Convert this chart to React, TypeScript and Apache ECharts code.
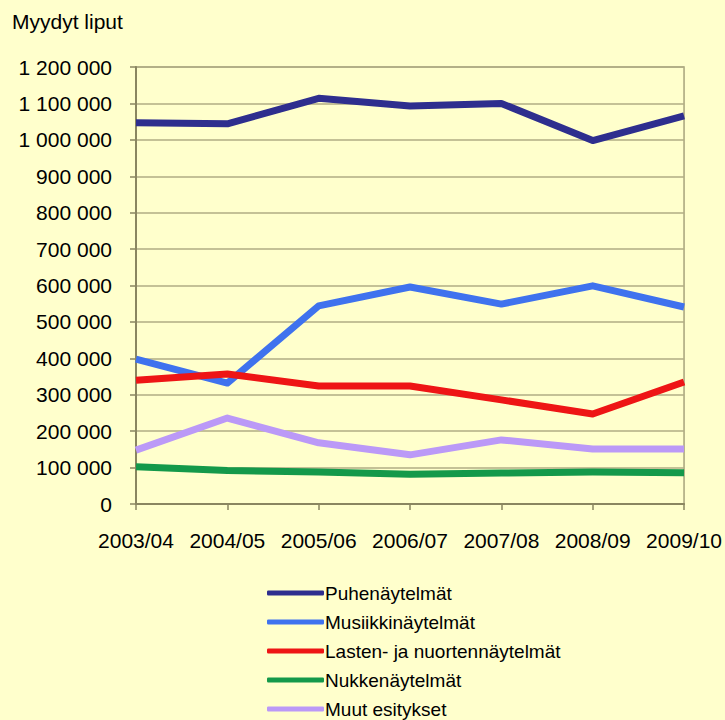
import React, { useEffect, useRef } from "react";
import * as echarts from "echarts";

const categories = ["2003/04", "2004/05", "2005/06", "2006/07", "2007/08", "2008/09", "2009/10"];
const seriesNames = [
  "Puhenäytelmät",
  "Musiikkinäytelmät",
  "Lasten- ja nuortennäytelmät",
  "Nukkenäytelmät",
  "Muut esitykset",
];
const puhe = [1047000, 1044000, 1114000, 1093000, 1100000, 998000, 1066000];
const musiikki = [398000, 332000, 544000, 596000, 549000, 599000, 541000];
const lasten = [340000, 357000, 324000, 324000, 286000, 247000, 335000];
const nukke = [102000, 92000, 88000, 82000, 85000, 88000, 86000];
const muut = [148000, 236000, 168000, 135000, 176000, 151000, 151000];
const seriesColors = ["#2E2E8E", "#3F72EE", "#EE1515", "#14994A", "#BB99F7"];
const yTitle = "Myydyt liput";

const fmt = (v: number) => String(v).replace(/\B(?=(\d{3})+(?!\d))/g, " ");

export default function App() {
  const ref = useRef<HTMLDivElement>(null);
  useEffect(() => {
    if (!ref.current) return;
    const chart = echarts.init(ref.current, undefined, { renderer: "svg" });
    const data = [puhe, musiikki, lasten, nukke, muut];
    const font = "'Liberation Sans', Arial, sans-serif";
    chart.setOption({
      animation: false,
      backgroundColor: "#FFFFCC",
      textStyle: { fontFamily: font },
      graphic: [
        {
          type: "text",
          left: 12,
          top: 11,
          style: { text: yTitle, font: `21px ${font}`, fill: "#000" },
        },
      ],
      grid: {
        left: 136,
        right: 40,
        top: 67,
        bottom: 216,
        show: true,
        borderColor: "#A8A47C",
        borderWidth: 1.5,
        backgroundColor: "transparent",
      },
      legend: {
        orient: "vertical",
        left: 262,
        top: 577,
        height: 160,
        itemWidth: 57,
        itemHeight: 5,
        itemGap: 7,
        icon: "roundRect",
        data: seriesNames,
        textStyle: { fontSize: 19, color: "#000", fontFamily: font, padding: [0, 0, 0, -4], lineHeight: 22 },
      },
      xAxis: {
        type: "category",
        data: categories,
        boundaryGap: false,
        axisLine: { lineStyle: { color: "#8A8660", width: 2 } },
        axisTick: { show: true, interval: 0, length: 6, lineStyle: { color: "#8A8660", width: 1.5 } },
        axisLabel: { interval: 0, fontSize: 21, color: "#000", margin: 26, fontFamily: font },
      },
      yAxis: {
        type: "value",
        min: 0,
        max: 1200000,
        interval: 100000,
        axisLine: { show: true, lineStyle: { color: "#8A8660", width: 2 } },
        axisTick: { show: true, length: 6, lineStyle: { color: "#8A8660", width: 1.5 } },
        axisLabel: { fontSize: 21, color: "#000", margin: 24, fontFamily: font, formatter: (v: number) => fmt(v) },
        splitLine: { lineStyle: { color: "#B0AC84", width: 1.5 } },
      },
      series: seriesNames.map((name, i) => ({
        name,
        type: "line",
        data: data[i],
        symbol: "none",
        color: seriesColors[i],
        lineStyle: { width: 7, color: seriesColors[i], join: "round" },
      })),
    });
    return () => chart.dispose();
  }, []);
  return <div ref={ref} style={{ width: 725, height: 720, position: "absolute", left: 0, top: 0 }} />;
}
